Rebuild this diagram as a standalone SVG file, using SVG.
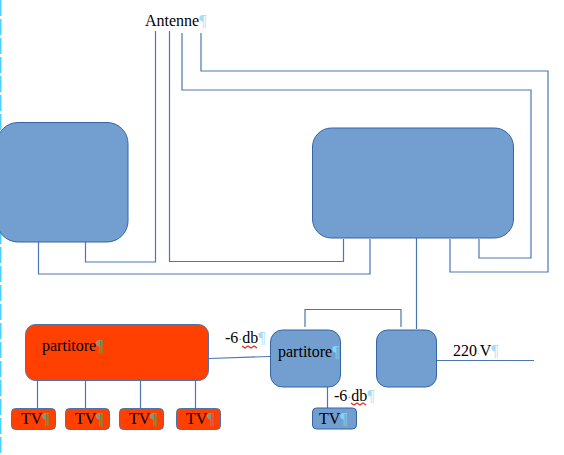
<svg xmlns="http://www.w3.org/2000/svg" width="564" height="455" viewBox="0 0 564 455">
<defs>
<linearGradient id="pw" x1="0" y1="0" x2="1" y2="0"><stop offset="0" stop-color="#2f97e6"/><stop offset="0.68" stop-color="#2f97e6"/><stop offset="0.72" stop-color="#a6dcf8"/><stop offset="1" stop-color="#a6dcf8"/></linearGradient>
<linearGradient id="pb" x1="0" y1="0" x2="1" y2="0"><stop offset="0" stop-color="#2f97e6"/><stop offset="0.68" stop-color="#2f97e6"/><stop offset="0.72" stop-color="#7fd4fb"/><stop offset="1" stop-color="#7fd4fb"/></linearGradient>
<linearGradient id="pr" x1="0" y1="0" x2="1" y2="0"><stop offset="0" stop-color="#2f97e6"/><stop offset="0.6" stop-color="#2f97e6"/><stop offset="0.65" stop-color="#7c9a78"/><stop offset="1" stop-color="#7c9a78"/></linearGradient>
</defs>
<style>
.b{fill:#729fcf;stroke:#3465a4;stroke-width:1}
.r{fill:#ff4000;stroke:#4d73a8;stroke-width:1}
.c{fill:none;stroke:#4a76b4;stroke-width:1.2}
text{font-family:"Liberation Serif","Times New Roman",serif;font-size:16px;fill:#000}
.pw{fill:url(#pw)}
.pb{fill:url(#pb)}
.pr{fill:url(#pr)}
.d{fill:#7a9cc0;font-size:12px}
.d2{fill:#7a9cc0;font-size:8px}
.s{fill:none;stroke:#e03020;stroke-width:1.2}
</style>
<rect width="564" height="455" fill="#fff"/>
<line x1="0.5" y1="0" x2="0.5" y2="455" stroke="#4dd2ff" stroke-width="2" stroke-dasharray="16 3"/>
<g id="connectors">
<path class="c" d="M155.500 31V262H85.500V242"/>
<path class="c" d="M169.500 31V261.500H343.500V239"/>
<path class="c" d="M182 33V90H531V258H479V239"/>
<path class="c" d="M201 33V71H548V272H450V239"/>
<path class="c" d="M38.500 242V274H370V239"/>
<path class="c" d="M416.500 238V329"/>
<path class="c" d="M305 327V309.500H401V327"/>
<path class="c" d="M209 358.500L270 356.500"/>
<path class="c" d="M437 360.500H534"/>
<path class="c" d="M327.500 387V408"/>
<path class="c" d="M37.500 381V408M85.500 381V408M140.500 381V408M195.500 381V408"/>
</g>
<g id="box-left"><rect class="b" x="-3" y="122.500" width="131" height="119.500" rx="21"/></g>
<g id="box-right"><rect class="b" x="312.500" y="128" width="201" height="110" rx="19"/></g>
<g id="partitore-red"><rect class="r" x="25.500" y="324.500" width="183" height="56" rx="10"/><text x="42" y="351">partitore<tspan class="pr">¶</tspan></text></g>
<g id="partitore-blue"><rect class="b" x="270.500" y="330" width="70" height="57" rx="12"/><text x="278" y="357">partitore<tspan class="pb">¶</tspan></text></g>
<g id="box-power"><rect class="b" x="376.500" y="330" width="60" height="57" rx="11"/></g>
<g id="tv1"><rect class="r" x="11.500" y="408.500" width="44" height="21" rx="4"/><text x="21" y="424">TV<tspan class="pr">¶</tspan></text></g>
<g id="tv2"><rect class="r" x="65.500" y="408.500" width="44" height="21" rx="4"/><text x="75" y="424">TV<tspan class="pr">¶</tspan></text></g>
<g id="tv3"><rect class="r" x="119.500" y="408.500" width="44" height="21" rx="4"/><text x="129" y="424">TV<tspan class="pr">¶</tspan></text></g>
<g id="tv4"><rect class="r" x="176.500" y="408.500" width="44" height="21" rx="4"/><text x="186" y="424">TV<tspan class="pr">¶</tspan></text></g>
<g id="tv5"><rect class="b" x="312.500" y="408" width="44" height="21" rx="4"/><text x="319" y="424">TV<tspan class="pb">¶</tspan></text></g>
<g id="label-antenne"><text x="145" y="26">Antenne<tspan class="pw">¶</tspan></text></g>
<g id="label-db1"><text x="225" y="343">-6<tspan class="d">·</tspan>db<tspan class="pw">¶</tspan></text><path class="s" d="M242 346l3 2 3-2 3 2 3-2 3 2"/></g>
<g id="label-db2"><text x="334" y="401">-6<tspan class="d">·</tspan>db<tspan class="pw">¶</tspan></text><path class="s" d="M351 403l3 2 3-2 3 2 3-2 3 2"/></g>
<g id="label-220"><text x="453" y="356">220<tspan class="d2">·</tspan>V<tspan class="pw">¶</tspan></text></g>
</svg>
